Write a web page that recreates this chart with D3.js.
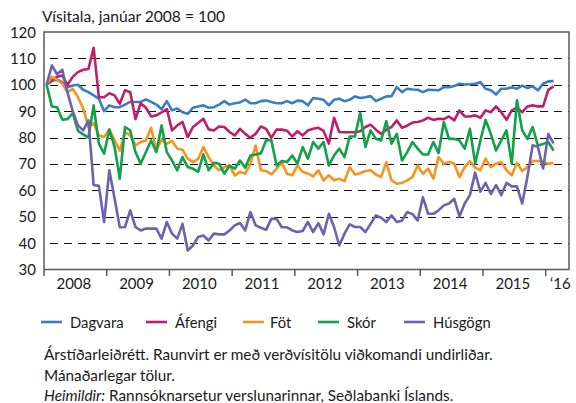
<!DOCTYPE html>
<html><head><meta charset="utf-8">
<script src="https://cdn.jsdelivr.net/npm/d3@7/dist/d3.min.js"></script>
<style>
body{margin:0;background:#fff}
svg{display:block}
text{font-family:Lato,"Open Sans",sans-serif;fill:#1a1a1a}
</style>
</head><body>
<svg id="c" width="576" height="403"></svg>
<script>
// ---------- DATA ----------
const title = "Vísitala, janúar 2008 = 100";
const yearLabels = ["2008","2009","2010","2011","2012","2013","2014","2015","\u201816"];
const yTickValues = [30,40,50,60,70,80,90,100,110,120];
const seriesNames = ["Dagvara","Áfengi","Föt","Skór","Húsgögn"];
const seriesColors = ["#3b7dc4","#be1e6a","#f7941e","#10a14a","#6e62ae"];

// monthly values, Jan 2008 - Feb 2016
const dagvara = [100,101.4,101.9,101,99.1,99.7,100,98.1,97.2,96,94.7,90,92.2,91.5,91.5,92.5,93.5,93.5,93.5,94.5,93.5,92.5,
 90.7,93.8,90.3,91,89.6,89,91.3,91.8,92.2,91.3,91.5,92.5,93.8,92.5,93,93.3,94.4,93,93,93.8,94,93.5,93,
 93,93.8,93,94,93.8,92.2,95,94.7,94.3,92.2,94.3,94.7,93.8,94.3,95.6,95,95.3,95.7,93.8,94.7,95.6,95.7,99.1,97.2,98.5,98.2,
 98.1,97.2,98.1,98,97.9,99.1,99.1,99.5,100.4,100.1,100.2,100.4,101,98.5,97.9,96.3,98.5,98.5,99.1,98.5,99.7,98.8,99.4,97.9,100.4,101.3,101.4];
const afengi = [100,102,103,103.5,100,103,104.8,105.7,106,114,95.3,95.3,96.8,96,92.8,97.9,97.2,87,93,91.3,88,88.4,
 89.5,90.8,82.7,84.6,85.9,80.2,84,85.5,87.1,83.1,82.7,84.2,84,82.1,80.8,83.3,81.4,79.9,81.4,84.2,83.3,79.9,83,
 83,82.6,80.4,82.4,80.8,82.7,83.3,83.7,82.5,77.7,87.5,82.1,82,82,82,82.4,84,84.9,83,81.4,83,84,86.5,83.7,84.5,85.7,
 85.9,86.5,87.5,86.7,87.1,87,88,86.5,90.3,88,88,88.4,87.5,90.3,89.6,91.8,89.6,86.7,90.3,91.3,89.6,91.8,92.2,91.8,91.8,98.1,99.4];
const fot = [100,103,101.9,100.4,97.2,98.5,95.3,91,84,85.5,80.8,80.2,83,79,75,82.1,80.8,77,78.3,78.9,83.7,75.1,
 79.2,77.6,78.7,75.8,75.4,72,70.7,71.9,76.4,72.6,69.4,67.6,68.8,69.4,65.7,67,66.3,70.1,77,67.6,67.3,66,68.2,
 70.5,66.3,65.7,69.4,67,66.3,65.3,67.6,63.8,65.7,63.8,64.4,63.5,68.8,66,66.5,67.3,67.6,66,65,70.7,63.8,62.5,62.8,63.8,
 65,69.4,66.3,68.2,64.4,72.6,70.1,70.7,70.1,65,68.8,71.1,68.6,67.6,72,68.8,70.1,70.7,67.6,65.7,70.4,67.3,68.8,71.1,71.1,70.7,70.1,70.4];
const skor = [100,91.8,91.5,86.8,87,89.3,82.5,81.2,80,92.2,77.7,73.9,83,76.5,64.4,84,82.7,74.5,70.1,74.5,78.9,74.5,
 84.6,74.5,71.3,67.6,72.6,68.8,68.2,67,73.6,67.6,70.4,70.1,66.3,69.4,68.2,71.3,68.6,73.2,73.6,74,79,79,69.4,
 71.1,70.7,73.2,70.1,76.4,72,78.3,75.8,78.3,69.4,73.2,75.8,72.6,80.4,80.4,89.3,76.4,82.7,79.5,78.9,86.2,77.7,81.4,71.3,74.5,78.3,
 75.8,73.6,73.6,78.3,74.1,85.9,79.5,79.5,78.9,75.8,83.3,70.1,78.9,86.7,81.4,75.1,78.9,82.7,70.1,94.1,82.7,79.5,84,77,77.6,78.3,75.1];
const husgogn = [100,107.3,104,105.7,97,90,84.6,82.7,86.5,62,61.7,48,67.6,57,46,
 46.1,52.4,46.1,44.8,45.5,45.5,45.5,
 41.7,48,43.6,41.7,47.3,37.2,39.1,42.3,42.9,41,43.6,43.3,43.3,44.8,46.7,47.6,44.8,51.8,46.7,45.8,45,49.2,49.2,
 46,46,44.8,44.2,44.6,48,44.2,47.6,43.3,51.1,46.1,39.1,43.6,47.1,46.1,46.1,44.2,47.3,50.5,49.6,48,50.5,48,
 48.5,51.8,51,48.6,57.4,51.1,51.1,52.4,54.3,55,56.8,50.1,55,58.2,66.7,59.5,62.8,58.6,62,58.2,62.8,61.5,61.5,55,65.1,77.1,76.5,68.3,81.3,77.8];
const notes = [
 {t:"Árstíðarleiðrétt. Raunvirt er með verðvísitölu viðkomandi undirliðar.", it:null},
 {t:"Mánaðarlegar tölur.", it:null},
 {t:" Rannsóknarsetur verslunarinnar, Seðlabanki Íslands.", it:"Heimildir:"}
];

// ---------- LAYOUT ----------
const allSeries = [dagvara, afengi, fot, skor, husgogn];
const L = 44, R = 569, T = 32, B = 269.5;
const nMonths = yearLabels.length * 12 - 12;

const svg = d3.select("#c");
const x = d3.scaleLinear().domain([0, nMonths]).range([L, 545.7]);
const y = d3.scaleLinear().domain([30, 120]).range([B, T]);

// title
svg.append("text").attr("x", 42).attr("y", 22).attr("font-size", 15.6).text(title);

// gridlines
svg.append("g").selectAll("line").data(yTickValues.filter(v => v > 30 && v < 120)).join("line")
  .attr("x1", L).attr("x2", R).attr("y1", d => Math.round(y(d)) + 0.5).attr("y2", d => Math.round(y(d)) + 0.5)
  .attr("stroke", "#111").attr("stroke-width", 1.1).attr("stroke-dasharray", "8,6").attr("stroke-dashoffset", 8);

// y labels
svg.append("g").selectAll("text").data(yTickValues).join("text")
  .attr("x", 36).attr("y", d => y(d) + 5.5).attr("text-anchor", "end").attr("font-size", 15).text(d => d);

// series lines
const line = d3.line().x((d, i) => x(i + 0.5)).y(d => y(d)).curve(d3.curveLinear);
svg.append("g").selectAll("path").data(allSeries).join("path")
  .attr("d", line).attr("fill", "none")
  .attr("stroke", (d, i) => seriesColors[i]).attr("stroke-width", 2.6)
  .attr("stroke-linejoin", "round");

// frame
svg.append("rect").attr("x", L).attr("y", T).attr("width", R - L).attr("height", B - T)
  .attr("fill", "none").attr("stroke", "#5a5a5a").attr("stroke-width", 1.5);

// x ticks
const tickMonths = d3.range(0, nMonths + 1, 12);
svg.append("g").selectAll("line").data(tickMonths).join("line")
  .attr("x1", d => x(d)).attr("x2", d => x(d)).attr("y1", B).attr("y2", B + 6.5)
  .attr("stroke", "#5a5a5a").attr("stroke-width", 1.5);

// x labels
svg.append("g").selectAll("text").data(yearLabels).join("text")
  .attr("x", (d, i) => i < yearLabels.length - 1 ? x(i * 12 + 6) - 1.5 : (x(i * 12) + R) / 2 + 3)
  .attr("y", 289).attr("text-anchor", "middle").attr("font-size", 15).text(d => d);

// legend
const legX = [41, 146, 243, 318, 404];
const lg = svg.append("g").selectAll("g").data(seriesNames).join("g")
  .attr("transform", (d, i) => `translate(${legX[i]},322)`);
lg.append("line").attr("x1", 0).attr("x2", 21).attr("y1", 0).attr("y2", 0)
  .attr("stroke", (d, i) => seriesColors[i]).attr("stroke-width", 2.6);
lg.append("text").attr("x", (d, i) => i === 2 ? 27 : 29).attr("y", 5.5).attr("font-size", 14.8).text(d => d);

// notes
const nt = svg.append("g").selectAll("text").data(notes).join("text")
  .attr("x", 44).attr("y", (d, i) => 360 + i * 20.5).attr("font-size", 15.3);
nt.each(function(d) {
  const s = d3.select(this);
  if (d.it) s.append("tspan").attr("font-style", "italic").text(d.it);
  s.append("tspan").text(d.t);
});
</script>
</body></html>
